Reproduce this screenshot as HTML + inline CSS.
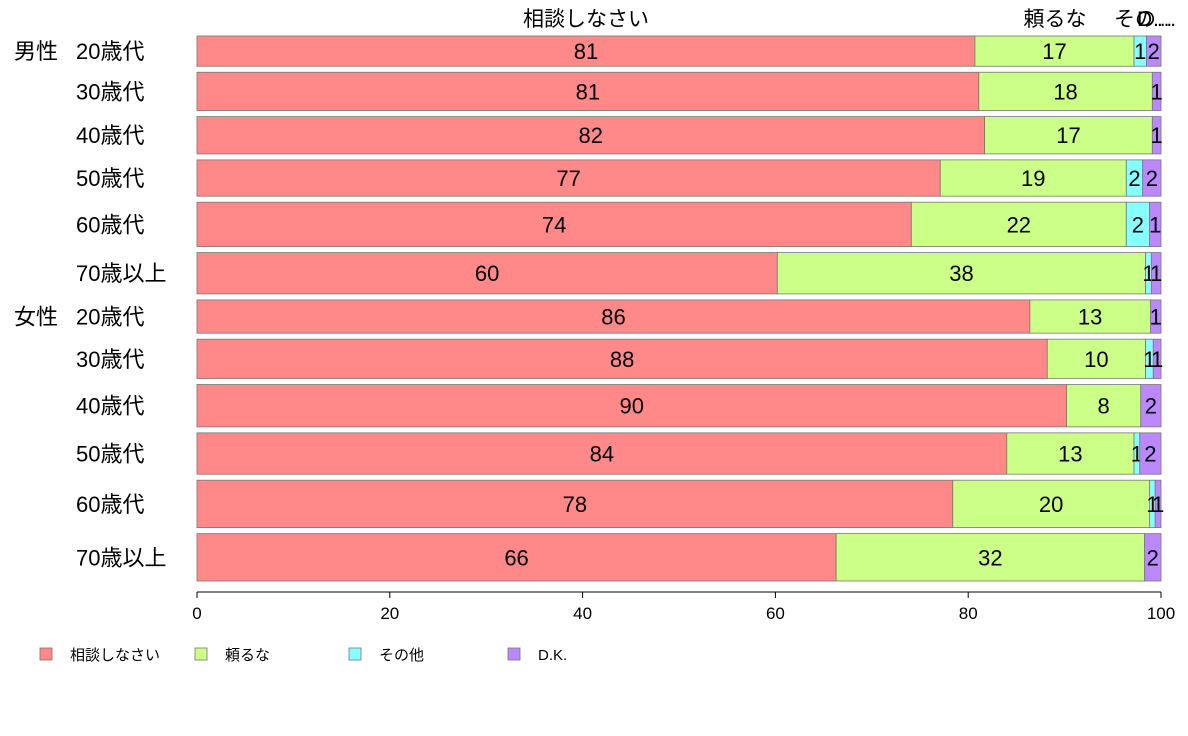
<!DOCTYPE html>
<html><head><meta charset="utf-8">
<style>
html,body{margin:0;padding:0;background:#fff;}
svg{display:block;font-family:"Liberation Sans","Noto Sans CJK JP",sans-serif;}
</style></head>
<body>
<svg id="chart" width="1188" height="736"></svg>
<script>
const categories=["20歳代","30歳代","40歳代","50歳代","60歳代","70歳以上","20歳代","30歳代","40歳代","50歳代","60歳代","70歳以上"];
const groups=["男性","","","","","","女性","","","","",""];
const seriesNames=["相談しなさい","頼るな","その他","D.K."];
const sodan=[80.7,81.1,81.7,77.1,74.1,60.2,86.4,88.2,90.2,84.0,78.4,66.3];
const tayoru=[16.5,18.0,17.4,19.3,22.3,38.2,12.5,10.2,7.7,13.2,20.4,32.0];
const sonota=[1.3,0,0,1.7,2.4,0.6,0,0.8,0,0.6,0.6,0];
const dk=[1.5,0.9,0.9,1.9,1.2,1.0,1.1,0.8,2.1,2.2,0.6,1.7];
const weights=[30,38,37,36,44,41,33,39,42,41,47,47];
const xTicks=[0,20,40,60,80,100];
const colors=["#ff8888","#ccff88","#88ffff","#bb88ff"];
const series=[sodan,tayoru,sonota,dk];
const NS="http://www.w3.org/2000/svg";
const svg=document.getElementById('chart');
const X0=197,X1=1161,Ytop=36,Ybot=581;
const x=v=>X0+(X1-X0)*v/100;
const gapPx=6;
const totalW=weights.reduce((a,b)=>a+b,0);
const scaleH=(Ybot-Ytop-gapPx*(weights.length-1))/totalW;
function mk(tag,attrs){const e=document.createElementNS(NS,tag);for(const k in attrs)e.setAttribute(k,attrs[k]);svg.appendChild(e);return e;}
let y=Ytop;
categories.forEach((c,i)=>{
  const h=weights[i]*scaleH;
  let cum=0;
  series.forEach((s,j)=>{
    const v=s[i];
    if(v>0){
      const r=mk('rect',{x:x(cum),y:y,width:x(cum+v)-x(cum),height:h,fill:colors[j],stroke:'#777','stroke-width':0.8});
      
      
      if(v>=0.5){
        const t=mk('text',{x:(x(cum)+x(cum+v))/2,y:y+h/2+8,'text-anchor':'middle','font-size':22,fill:'#000'});
        t.textContent=Math.round(v);
        
        
      }
    }
    cum+=v;
  });
  if(groups[i]){
    const g=mk('text',{x:14,y:y+h/2+8,'font-size':22});
    g.textContent=groups[i];
    
    
  }
  const l=mk('text',{x:76,y:y+h/2+8,'font-size':22});
  l.textContent=c;
  
  
  y+=h+gapPx;
});
// top series labels
const topLabels=[["相談しなさい",586,'middle'],["頼るな",1055,'middle'],["その…",1114,'start'],["D…",1137,'start']];
topLabels.forEach(t=>{
  const e=mk('text',{x:t[1],y:26,'text-anchor':t[2],'font-size':21});
  e.textContent=t[0];
  
  
});
// axis
const ax=mk('line',{x1:X0,x2:X1,y1:592,y2:592,stroke:'#000','stroke-width':1});


xTicks.forEach(v=>{
  const tk=mk('line',{x1:x(v),x2:x(v),y1:592,y2:598,stroke:'#000'});
  
  
  const t=mk('text',{x:x(v),y:619,'text-anchor':'middle','font-size':17});
  t.textContent=v;
  
  
});
// legend
const legX=[40,195,349,508];
seriesNames.forEach((n,j)=>{
  const r=mk('rect',{x:legX[j],y:648,width:12,height:12,fill:colors[j],stroke:'#777','stroke-width':0.8});
  
  
  const t=mk('text',{x:legX[j]+30,y:660,'font-size':15});
  t.textContent=n;
  
  
});
</script>
</body></html>
